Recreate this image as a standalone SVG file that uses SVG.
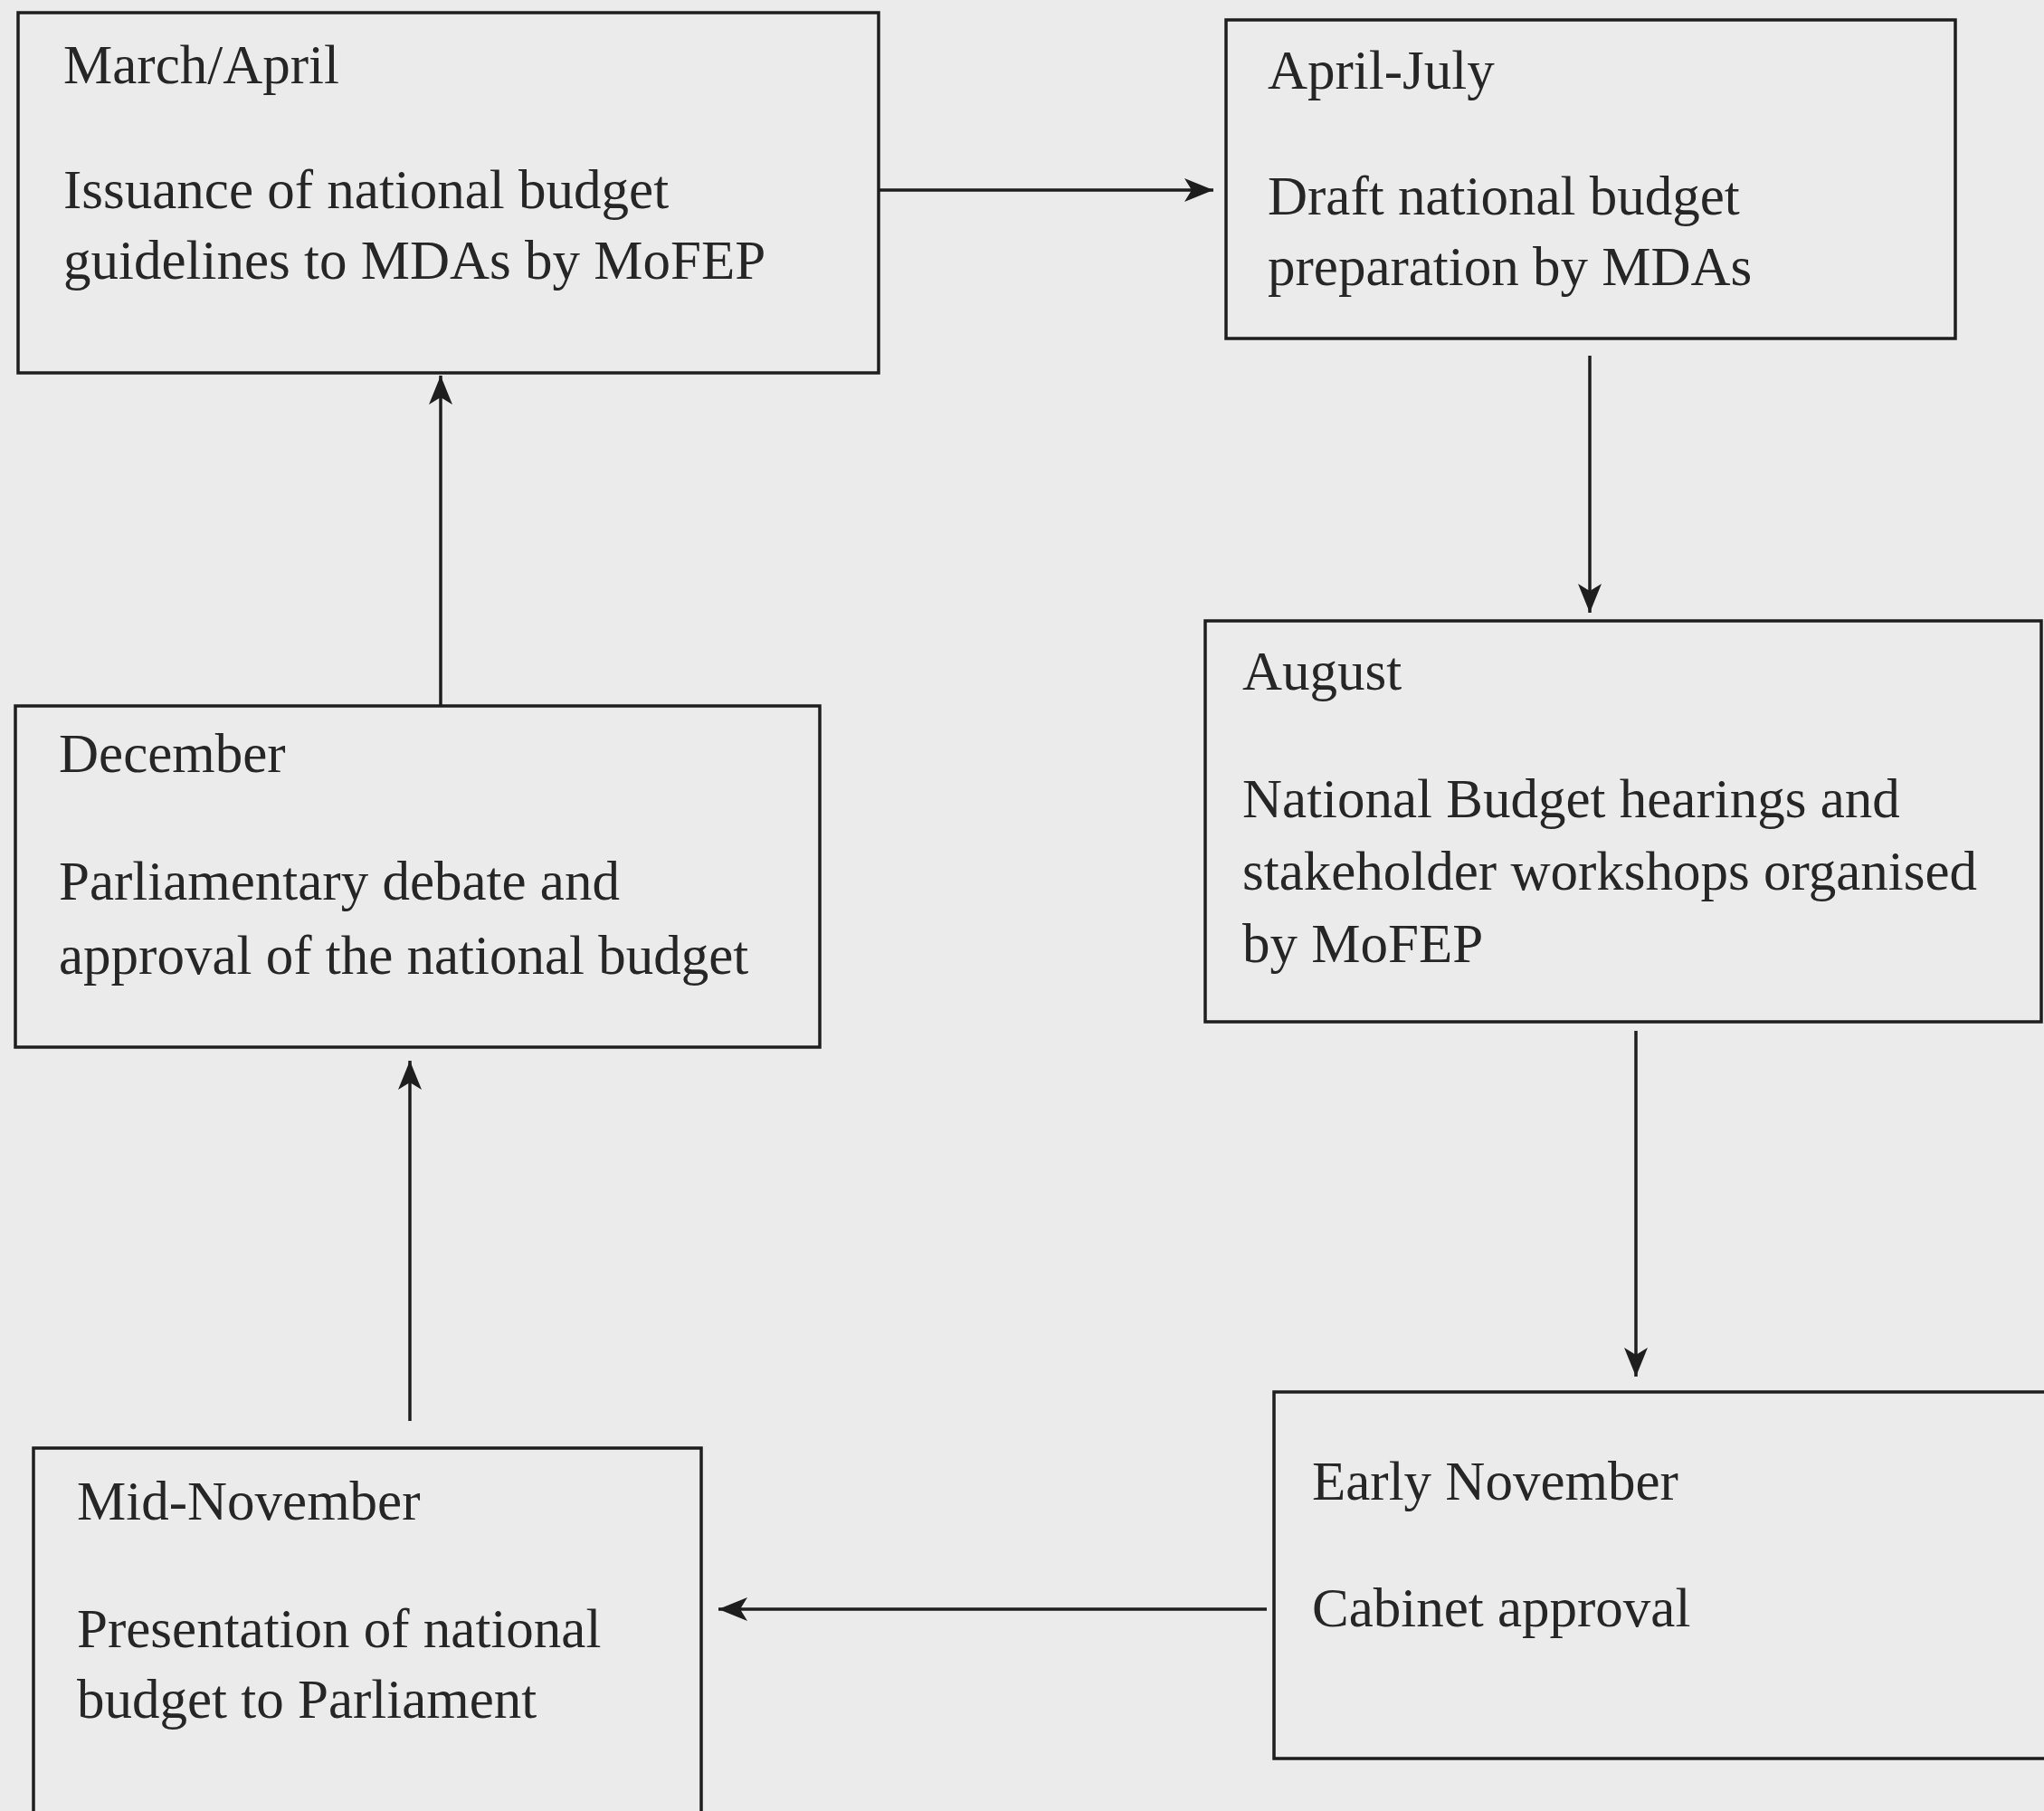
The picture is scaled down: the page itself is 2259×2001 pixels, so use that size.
<svg xmlns="http://www.w3.org/2000/svg" width="2259" height="2001" viewBox="0 0 2259 2001">
<style>
.box{fill:none;stroke:#1e1e1e;stroke-width:3.5}
.t{font-family:"Liberation Serif","Times New Roman",serif;font-size:61px;fill:#262626}
.conn{stroke:#1e1e1e;stroke-width:3.5;fill:none}
</style>
<defs>
<marker id="ah" markerUnits="userSpaceOnUse" markerWidth="34" markerHeight="28" refX="32" refY="13" orient="auto">
<path d="M0,0 L32,13 L0,26 L8,13 z" fill="#1e1e1e"/>
</marker>
</defs>
<rect width="2259" height="2001" fill="#ebebeb"/>
<g id="connectors">
<line class="conn" x1="971" y1="210" x2="1341" y2="210" marker-end="url(#ah)"/>
<line class="conn" x1="1757" y1="393" x2="1757" y2="677" marker-end="url(#ah)"/>
<line class="conn" x1="1808" y1="1139" x2="1808" y2="1521" marker-end="url(#ah)"/>
<line class="conn" x1="1400" y1="1778" x2="794" y2="1778" marker-end="url(#ah)"/>
<line class="conn" x1="453" y1="1570" x2="453" y2="1172" marker-end="url(#ah)"/>
<line class="conn" x1="487" y1="780" x2="487" y2="415" marker-end="url(#ah)"/>
</g>
<g id="node-march-april">
<rect class="box" x="20" y="14" width="951" height="398"/>
<text class="t" x="70" y="92">March/April</text>
<text class="t" x="70" y="230">Issuance of national budget</text>
<text class="t" x="70" y="308">guidelines to MDAs by MoFEP</text>
</g>
<g id="node-april-july">
<rect class="box" x="1355" y="22" width="806" height="352"/>
<text class="t" x="1401" y="98">April-July</text>
<text class="t" x="1401" y="237">Draft national budget</text>
<text class="t" x="1401" y="315">preparation by MDAs</text>
</g>
<g id="node-august">
<rect class="box" x="1332" y="686" width="924" height="443"/>
<text class="t" x="1373" y="762">August</text>
<text class="t" x="1373" y="903">National Budget hearings and</text>
<text class="t" x="1373" y="983">stakeholder workshops organised</text>
<text class="t" x="1373" y="1063">by MoFEP</text>
</g>
<g id="node-early-november">
<rect class="box" x="1408" y="1538" width="858" height="405"/>
<text class="t" x="1450" y="1657">Early November</text>
<text class="t" x="1450" y="1797">Cabinet approval</text>
</g>
<g id="node-mid-november">
<rect class="box" x="37" y="1600" width="738" height="420"/>
<text class="t" x="85" y="1679">Mid-November</text>
<text class="t" x="85" y="1820">Presentation of national</text>
<text class="t" x="85" y="1898">budget to Parliament</text>
</g>
<g id="node-december">
<rect class="box" x="17" y="780" width="889" height="377"/>
<text class="t" x="65" y="853">December</text>
<text class="t" x="65" y="994">Parliamentary debate and</text>
<text class="t" x="65" y="1076">approval of the national budget</text>
</g>
</svg>
